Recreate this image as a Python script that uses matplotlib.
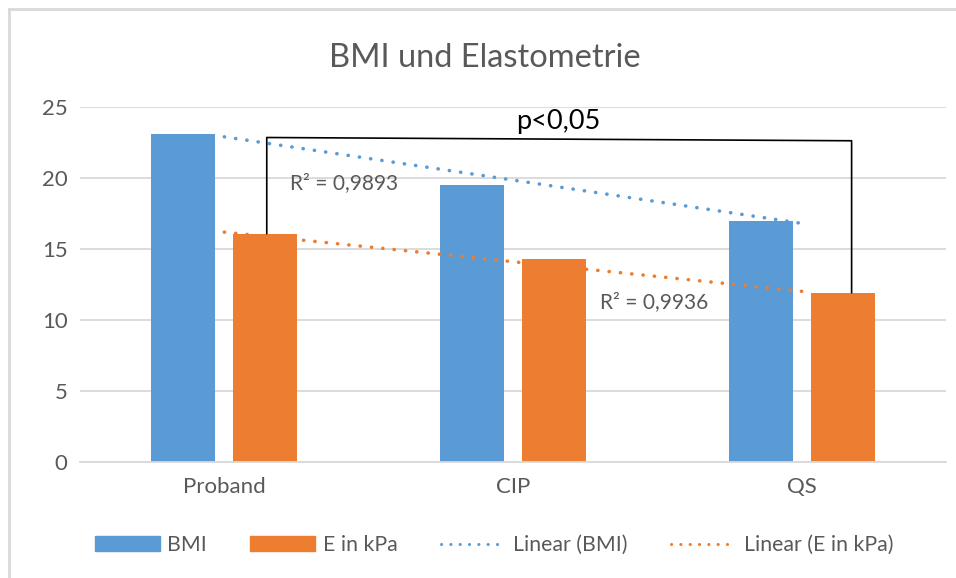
import numpy as np
import matplotlib
matplotlib.use("Agg")
import matplotlib.pyplot as plt
from matplotlib.patches import Patch
from matplotlib.lines import Line2D

categories = ["Proband", "CIP", "QS"]
bmi = [23.1, 19.5, 17.0]
e_kpa = [16.1, 14.3, 11.93]
r2_labels = ["R² = 0,9893", "R² = 0,9936"]
p_label = "p<0,05"
title = "BMI und Elastometrie"
yticks = [0, 5, 10, 15, 20, 25]

BLUE = "#5B9BD5"
ORANGE = "#ED7D31"
GRAY = "#595959"
GRID = "#D9D9D9"

plt.rcParams['font.family'] = ['Lato', 'DejaVu Sans']

W, H = 956, 578
fig = plt.figure(figsize=(W / 100, H / 100), dpi=100)

# outer chart border (left and top visible)
fig.add_artist(Line2D([9 / W, 9 / W], [0, 1 - 9 / H], color=GRID, lw=2))
fig.add_artist(Line2D([9 / W, 1], [1 - 9 / H, 1 - 9 / H], color=GRID, lw=2))

ax_l, ax_r, ax_t, ax_b = 80, 946, 107.3, 461.8
ax = fig.add_axes([ax_l / W, 1 - ax_b / H, (ax_r - ax_l) / W, (ax_b - ax_t) / H])

x = np.arange(len(categories))
bw = 0.222
off = 0.142
ax.bar(x - off, bmi, bw, color=BLUE, zorder=2, label="BMI")
ax.bar(x + off, e_kpa, bw, color=ORANGE, zorder=2, label="E in kPa")

# linear trendlines
dot_style = dict(lw=2.6, linestyle=(0, (0.05, 3.1)), dash_capstyle='round', zorder=3)
for vals, col in [(bmi, BLUE), (e_kpa, ORANGE)]:
    k, d = np.polyfit(x, vals, 1)
    ax.plot([x[0], x[-1]], [k * x[0] + d, k * x[-1] + d], color=col, **dot_style)

# significance bracket
xl, xr = x[0] + 0.147, x[2] + 0.173
yl, yr = 22.87, 22.64
ax.plot([xl, xl, xr, xr], [e_kpa[0], yl, yr, e_kpa[2]], color="black", lw=1.2, zorder=4)
ax.text(1.156, 23.47, p_label, ha="center", va="baseline", fontsize=19.5, color="black")

# R² labels
ax.text(0.227, 19.66, r2_labels[0], ha="left", va="center", fontsize=15, color=GRAY)
ax.text(1.301, 11.27, r2_labels[1], ha="left", va="center", fontsize=15, color=GRAY)

ax.set_xlim(-0.5, 2.5)
ax.set_ylim(0, 25)
ax.set_yticks(yticks)
ax.set_xticks(x)
ax.set_xticklabels(categories)
ax.yaxis.grid(True, color=GRID, lw=1.3, zorder=0)
ax.set_axisbelow(True)
for s in ["top", "right", "left"]:
    ax.spines[s].set_visible(False)
ax.spines["bottom"].set_color(GRID)
ax.spines["bottom"].set_linewidth(1.3)
ax.tick_params(axis="both", length=0, labelsize=16, colors=GRAY)
ax.tick_params(axis="y", pad=9)
ax.tick_params(axis="x", pad=11)

fig.text(484.5 / W, 1 - 67 / H, title, ha="center", va="baseline", fontsize=23.5, color=GRAY)

handles = [
    Patch(color=BLUE, label="BMI"),
    Patch(color=ORANGE, label="E in kPa"),
    Line2D([], [], color=BLUE, lw=2.2, linestyle=(0, (0.05, 3.0)), dash_capstyle='round', label="Linear (BMI)"),
    Line2D([], [], color=ORANGE, lw=2.2, linestyle=(0, (0.05, 3.0)), dash_capstyle='round', label="Linear (E in kPa)"),
]
leg = fig.legend(handles=handles, loc="center", bbox_to_anchor=(494 / W, 1 - 545 / H), ncol=4,
                 frameon=False, fontsize=15.3, handlelength=3.05, handleheight=0.7,
                 handletextpad=0.35, columnspacing=2.05, labelcolor=GRAY)

fig.savefig("out.png", dpi=100, facecolor="white")
